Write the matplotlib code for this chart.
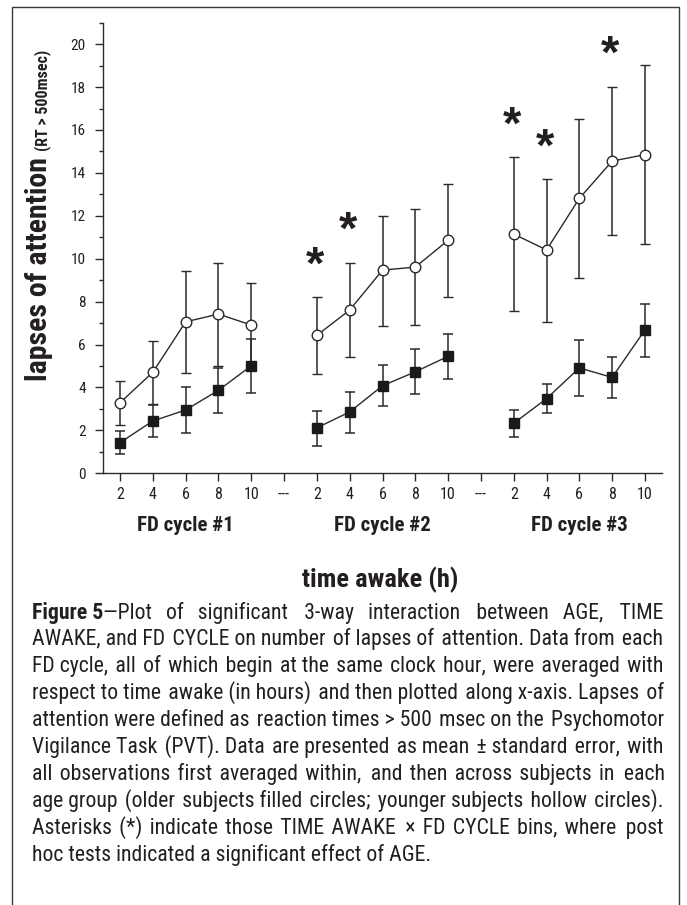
import matplotlib
matplotlib.use("Agg")
import matplotlib.pyplot as plt
from matplotlib import font_manager as fm
from matplotlib.lines import Line2D
from matplotlib.ticker import FixedLocator
import matplotlib.transforms as mtransforms

# ---------------- data ----------------
hours = [2, 4, 6, 8, 10]
cycles = ["FD cycle #1", "FD cycle #2", "FD cycle #3"]
gap_label = "---"

young_mean = [[3.29, 4.71, 7.06, 7.42, 6.91],
              [6.43, 7.61, 9.47, 9.61, 10.86],
              [11.15, 10.41, 12.81, 14.55, 14.85]]
young_lo = [[2.25, 3.23, 4.67, 5.00, 4.95],
            [4.63, 5.43, 6.88, 6.91, 8.20],
            [7.55, 7.06, 9.11, 11.10, 10.68]]
young_hi = [[4.30, 6.15, 9.44, 9.81, 8.87],
            [8.20, 9.81, 12.00, 12.30, 13.49],
            [14.72, 13.70, 16.50, 18.01, 19.01]]

old_mean = [[1.43, 2.44, 2.95, 3.87, 5.01],
            [2.12, 2.86, 4.08, 4.73, 5.45],
            [2.33, 3.48, 4.91, 4.47, 6.68]]
old_lo = [[0.90, 1.71, 1.88, 2.82, 3.73],
          [1.29, 1.89, 3.12, 3.70, 4.38],
          [1.71, 2.82, 3.62, 3.51, 5.43]]
old_hi = [[1.97, 3.18, 4.04, 4.91, 6.27],
          [2.92, 3.80, 5.03, 5.79, 6.50],
          [2.94, 4.15, 6.21, 5.43, 7.90]]

significant = [(1, 2), (1, 4), (2, 2), (2, 4), (2, 8)]

y_label_main = "lapses of attention"
y_label_sub = "(RT > 500msec)"
x_label = "time awake (h)"

caption_lines = [
    "Figure 5\u2014Plot of significant 3-way interaction between AGE, TIME",
    "AWAKE, and FD CYCLE on number of lapses of attention. Data from each",
    "FD cycle, all of which begin at the same clock hour, were averaged with",
    "respect to time awake (in hours) and then plotted along x-axis. Lapses of",
    "attention were defined as reaction times > 500 msec on the Psychomotor",
    "Vigilance Task (PVT). Data are presented as mean \u00b1 standard error, with",
    "all observations first averaged within, and then across subjects in each",
    "age group (older subjects filled circles; younger subjects hollow circles).",
    "Asterisks (*) indicate those TIME AWAKE \u00d7 FD CYCLE bins, where post",
    "hoc tests indicated a significant effect of AGE.",
]
caption_bold_prefix = "Figure 5"

# ---------------- style ----------------
names = {f.name for f in fm.fontManager.ttflist}
NARROW = "Liberation Sans"
for cand in ["Liberation Sans Narrow", "Roboto Condensed", "DejaVu Sans Condensed",
             "Open Sans Condensed", "Roboto"]:
    if cand in names:
        NARROW = cand
        break
FAM = [NARROW, "Liberation Sans", "DejaVu Sans"]
plt.rcParams["font.family"] = FAM
INK = "#231f20"
LINE = "#2a2a2a"

W, H = 687, 905
fig = plt.figure(figsize=(W / 100, H / 100), dpi=100)

def fx(px):
    return px / W

def fy(py_from_top):
    return (H - py_from_top) / H

ax_left, ax_right, ax_top, ax_bottom = 103, 662, 22.7, 473.3
ax = fig.add_axes([fx(ax_left), fy(ax_bottom), fx(ax_right - ax_left), (ax_bottom - ax_top) / H])

n_per = len(hours) + 1
positions = [[ci * n_per + hi for hi in range(len(hours))] for ci in range(len(cycles))]

for ci in range(len(cycles)):
    xs = positions[ci]
    ym = young_mean[ci]
    yerr = [[m - lo for m, lo in zip(ym, young_lo[ci])],
            [hi - m for m, hi in zip(ym, young_hi[ci])]]
    ax.errorbar(xs, ym, yerr=yerr, fmt="-o", color=LINE, mfc="white", mec=LINE,
                mew=1.0, ms=7.6, lw=1.0, elinewidth=1.1, capsize=3.8, capthick=1.1, zorder=3)
for ci in range(len(cycles)):
    xs = positions[ci]
    om = old_mean[ci]
    yerr = [[m - lo for m, lo in zip(om, old_lo[ci])],
            [hi - m for m, hi in zip(om, old_hi[ci])]]
    ax.errorbar(xs, om, yerr=yerr, fmt="-s", color=LINE, mfc="#1a1a1a", mec="#1a1a1a",
                ms=6.6, lw=1.0, elinewidth=1.1, capsize=3.8, capthick=1.1, zorder=4)

for ci, hr in significant:
    hi_idx = hours.index(hr)
    ax.text(positions[ci][hi_idx] - 0.05, young_hi[ci][hi_idx] + 1.45, "*",
            ha="center", va="center", fontsize=34, fontweight="bold",
            family=["Liberation Sans", "DejaVu Sans"], color=INK)

all_pos = list(range(len(cycles) * n_per - 1))
tick_labels = []
for ci in range(len(cycles)):
    tick_labels += [str(h) for h in hours]
    if ci < len(cycles) - 1:
        tick_labels.append(gap_label)
ax.set_xticks(all_pos)
ax.set_xticklabels(tick_labels)
ax.set_xlim(-0.52, 16.52)
ax.set_ylim(0, 21)
ax.yaxis.set_major_locator(FixedLocator(list(range(0, 21, 2))))
ax.yaxis.set_minor_locator(FixedLocator(list(range(1, 22, 2))))
for s in ["top", "right"]:
    ax.spines[s].set_visible(False)
for s in ["left", "bottom"]:
    ax.spines[s].set_linewidth(1.0)
    ax.spines[s].set_color(LINE)
ax.tick_params(axis="y", which="major", length=5.5, width=1.0, color=LINE,
               labelsize=11, labelcolor=INK, pad=7)
ax.tick_params(axis="y", which="minor", length=3.0, width=1.0, color=LINE)
ax.tick_params(axis="x", which="major", length=5.8, width=1.0, color=LINE,
               labelsize=11.5, labelcolor=INK, pad=4)
ax.set_facecolor("none")

blend = mtransforms.blended_transform_factory(ax.transData, fig.transFigure)
for ci, name in enumerate(cycles):
    ax.text(positions[ci][2], fy(531), name, transform=blend, ha="center", va="baseline",
            fontsize=15, fontweight="bold", color=INK)

fig.text(fx(380), fy(587), x_label, ha="center", va="baseline",
         fontsize=19, fontweight="bold", color=INK)

renderer = fig.canvas.get_renderer()
t1 = fig.text(fx(47), fy(381), y_label_main, rotation=90, rotation_mode="anchor",
              ha="left", va="baseline", fontsize=21.5, fontweight="bold", color=INK)
bb = t1.get_window_extent(renderer)
t2 = fig.text(fx(47), (bb.y1 + 6) / H, y_label_sub, rotation=90, rotation_mode="anchor",
              ha="left", va="baseline", fontsize=11.5, fontweight="bold", color=INK)

# ---------------- caption, fully justified (one Text per line) ----------------
CAP_FS = 15.7
L_MARGIN, R_MARGIN = 32, 664
base0, line_step = 618.5, 26.9
HS = "\u200a"  # hair space used to stretch word gaps

def measure(txt, weight="normal"):
    t = fig.text(0, 0, txt, fontsize=CAP_FS, fontweight=weight)
    w = t.get_window_extent(renderer).width
    t.remove()
    return w

hs_w = (measure("a" + HS * 20 + "a") - measure("aa")) / 20

def justify(text, avail):
    words = text.split(" ")
    g = len(words) - 1
    if g < 1 or hs_w <= 0:
        return text
    extra = avail - measure(text)
    n = max(0, int(round(extra / hs_w)))
    out = words[0]
    for i in range(g):
        k = (i + 1) * n // g - i * n // g
        out += " " + HS * k + words[i + 1]
    return out

for li, line in enumerate(caption_lines):
    yb = fy(base0 + li * line_step)
    x0 = L_MARGIN
    body = line
    if li == 0 and line.startswith(caption_bold_prefix):
        fig.text(fx(x0), yb, caption_bold_prefix, fontsize=CAP_FS, fontweight="bold",
                 color=INK, ha="left", va="baseline")
        x0 += measure(caption_bold_prefix, "bold")
        body = line[len(caption_bold_prefix):]
    if li < len(caption_lines) - 1:
        body = justify(body, R_MARGIN - x0)
    fig.text(fx(x0), yb, body, fontsize=CAP_FS, color=INK, ha="left", va="baseline")

frame = Line2D([fx(11.5), fx(11.5), fx(678.5), fx(678.5)],
               [fy(910), fy(7.5), fy(7.5), fy(910)],
               transform=fig.transFigure, color="#3a3a3a", lw=1.0)
fig.add_artist(frame)

fig.savefig("out.png", dpi=100)
